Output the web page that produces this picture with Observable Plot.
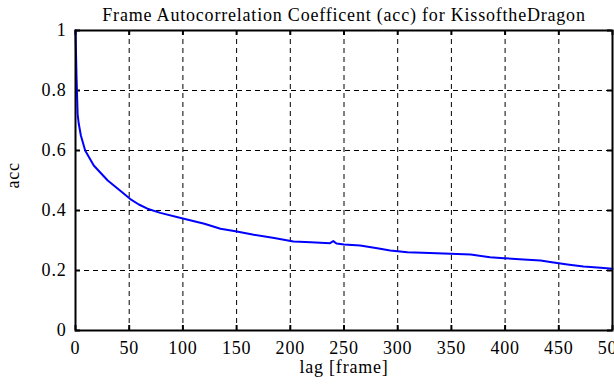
<!DOCTYPE html>
<html>
<head>
<meta charset="utf-8">
<script src="https://cdn.jsdelivr.net/npm/d3@7"></script>
<script src="https://cdn.jsdelivr.net/npm/@observablehq/plot@0.6"></script>
<style>
  body { margin: 0; background: white; }
  svg, svg text, svg g { font-family: "Liberation Serif", "Times New Roman", serif !important; }
  svg text { letter-spacing: 0.8px; }
</style>
</head>
<body>
<div id="chart"></div>
<script>
const titleText = "Frame Autocorrelation Coefficent (acc) for KissoftheDragon";
const xLabel = "lag [frame]";
const yLabel = "acc";
const xTicks = [0, 50, 100, 150, 200, 250, 300, 350, 400, 450, 500];
const yTicks = [0, 0.2, 0.4, 0.6, 0.8, 1];
const lags = [0, 1, 2, 3, 5, 9, 17, 30, 42, 51, 59, 67, 79, 99, 120, 135, 149, 166, 185, 203, 219, 237, 240, 243, 250, 265, 281, 293, 309, 330, 349, 368, 386, 399, 417, 433, 442, 458, 473, 489, 500];
const acc  = [1, 0.84, 0.72, 0.69, 0.65, 0.60, 0.55, 0.50, 0.465, 0.438, 0.42, 0.406, 0.392, 0.374, 0.356, 0.339, 0.331, 0.319, 0.308, 0.297, 0.294, 0.291, 0.298, 0.290, 0.287, 0.283, 0.274, 0.267, 0.261, 0.258, 0.256, 0.253, 0.244, 0.241, 0.237, 0.233, 0.228, 0.22, 0.213, 0.209, 0.206];

const data = lags.map((l, i) => ({lag: l, acc: acc[i]}));
const gridX = xTicks.slice(1, -1);
const gridY = yTicks.slice(1, -1);
const serif = "Liberation Serif";

const chart = Plot.plot({
  width: 614,
  height: 385,
  marginLeft: 75,
  marginRight: 2,
  marginTop: 30,
  marginBottom: 55,
  style: {fontFamily: serif, fontSize: "18px", color: "black", background: "white"},
  x: {domain: [0, 500]},
  y: {domain: [0, 1]},
  marks: [
    Plot.ruleX(gridX, {stroke: "black", strokeWidth: 1, strokeDasharray: "5,4"}),
    Plot.ruleY(gridY, {stroke: "black", strokeWidth: 1, strokeDasharray: "5,4"}),
    Plot.ruleX(xTicks, {stroke: "black", strokeWidth: 2, insetTop: 295}),
    Plot.ruleX(xTicks, {stroke: "black", strokeWidth: 2, insetBottom: 295}),
    Plot.ruleY(yTicks, {stroke: "black", strokeWidth: 2, insetRight: 532}),
    Plot.ruleY(yTicks, {stroke: "black", strokeWidth: 2, insetLeft: 532}),
    Plot.line(data, {x: "lag", y: "acc", stroke: "#0000ff", strokeWidth: 2}),
    Plot.frame({stroke: "black", strokeWidth: 2}),
    Plot.axisX(xTicks, {tickSize: 0, tickPadding: 11, tickFormat: d => String(d), label: null, fontSize: 18, fontFamily: serif}),
    Plot.axisY(yTicks, {tickSize: 0, tickPadding: 9, tickFormat: d => String(d), label: null, fontSize: 18, fontFamily: serif}),
    Plot.text([titleText], {frameAnchor: "top", dy: -22, fontSize: 18, fontFamily: serif}),
    Plot.text([xLabel], {frameAnchor: "bottom", dy: 42, fontSize: 18, fontFamily: serif}),
    Plot.text([yLabel], {frameAnchor: "left", dx: -62, dy: 8, rotate: -90, fontSize: 18, fontFamily: serif})
  ]
});
document.getElementById("chart").appendChild(chart);
</script>
</body>
</html>
